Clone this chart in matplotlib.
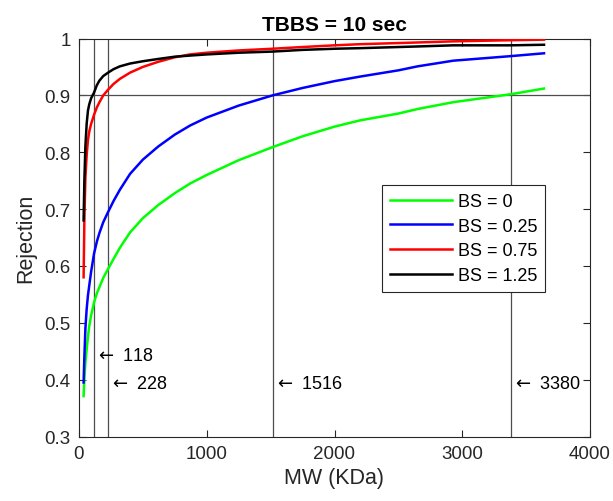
import matplotlib
matplotlib.use('Agg')
import matplotlib.pyplot as plt

plt.rcParams['font.family'] = ['Liberation Sans', 'DejaVu Sans']

# MW sample points (KDa)
mw = [36, 42, 50, 60, 70, 80, 95, 118, 140, 160, 190, 228, 270, 320, 400,
      500, 620, 750, 870, 1000, 1250, 1516, 1750, 2000, 2200, 2500, 2650,
      2930, 3380, 3640]

# rejection curves
bs_0 = [0.371, 0.400, 0.430, 0.453, 0.475, 0.494, 0.513, 0.536, 0.552, 0.563,
        0.579, 0.595, 0.612, 0.632, 0.659, 0.684, 0.707, 0.728, 0.745, 0.760,
        0.786, 0.809, 0.828, 0.845, 0.856, 0.868, 0.876, 0.888, 0.902, 0.912]
bs_025 = [0.395, 0.440, 0.490, 0.524, 0.548, 0.565, 0.590, 0.622, 0.643, 0.658,
          0.677, 0.695, 0.714, 0.734, 0.762, 0.787, 0.810, 0.831, 0.847, 0.861,
          0.882, 0.900, 0.913, 0.925, 0.933, 0.944, 0.951, 0.961, 0.969, 0.974]
bs_075 = [0.580, 0.680, 0.755, 0.795, 0.821, 0.836, 0.850, 0.866, 0.879, 0.888,
          0.900, 0.910, 0.920, 0.929, 0.940, 0.950, 0.959, 0.967, 0.972, 0.975,
          0.979, 0.982, 0.985, 0.988, 0.990, 0.992, 0.993, 0.995, 0.997, 0.998]
bs_125 = [0.680, 0.750, 0.810, 0.850, 0.873, 0.884, 0.895, 0.905, 0.918, 0.926,
          0.934, 0.940, 0.946, 0.951, 0.956, 0.960, 0.964, 0.968, 0.970, 0.972,
          0.975, 0.977, 0.980, 0.982, 0.983, 0.985, 0.986, 0.988, 0.988, 0.989]

series = [bs_0, bs_025, bs_075, bs_125]
labels = ['BS = 0', 'BS = 0.25', 'BS = 0.75', 'BS = 1.25']
colors = ['#00ff00', '#0000ff', '#ff0000', '#000000']

# marked MW values where rejection hits 0.9
marks = [118, 228, 1516, 3380]
mark_y = [0.443, 0.393, 0.393, 0.393]

xticks = [0, 1000, 2000, 3000, 4000]
yticks = [0.3, 0.4, 0.5, 0.6, 0.7, 0.8, 0.9, 1.0]
ytick_labels = ['0.3', '0.4', '0.5', '0.6', '0.7', '0.8', '0.9', '1']

fig = plt.figure(figsize=(6.13, 5.02), dpi=100)
ax = fig.add_axes([79 / 613, 1 - 437.5 / 502, 511 / 613, 398 / 502])

axis_col = '#262626'
ref_col = '#4d4d4d'

for vals, lab, col in zip(series, labels, colors):
    ax.plot(mw, vals, color=col, lw=1.8, label=lab, zorder=3,
            solid_joinstyle='round')

for m, ty in zip(marks, mark_y):
    ax.axvline(m, color=ref_col, lw=0.9, zorder=2)
    ax.text(m + 8, ty, r'$\leftarrow$ ' + str(m), fontsize=13, color='#000000',
            ha='left', va='center', zorder=4)
ax.axhline(0.9, color=ref_col, lw=0.9, zorder=2)

ax.set_xlim(0, 4000)
ax.set_ylim(0.3, 1.0)
ax.set_xticks(xticks)
ax.set_yticks(yticks)
ax.set_yticklabels(ytick_labels)
ax.tick_params(direction='in', top=True, right=True, length=5, width=0.8,
               colors=axis_col, labelsize=13.5, pad=6)
for sp in ax.spines.values():
    sp.set_color(axis_col)
    sp.set_linewidth(0.8)

ax.set_title('TBBS = 10 sec', fontsize=15, fontweight='bold', color='#000000', pad=6)
ax.set_xlabel('MW (KDa)', fontsize=15.5, color=axis_col, labelpad=4)
ax.set_ylabel('Rejection', fontsize=15.5, color=axis_col, labelpad=6)

leg = ax.legend(loc='upper left', bbox_to_anchor=(382 / 613, 1 - 186 / 502),
                bbox_transform=fig.transFigure, borderaxespad=0, fontsize=13,
                fancybox=False, framealpha=1, edgecolor=axis_col,
                handlelength=3.4, handletextpad=0.35, labelspacing=0.42,
                borderpad=0.45)
leg.get_frame().set_linewidth(0.8)

fig.savefig('out.png', dpi=100)
